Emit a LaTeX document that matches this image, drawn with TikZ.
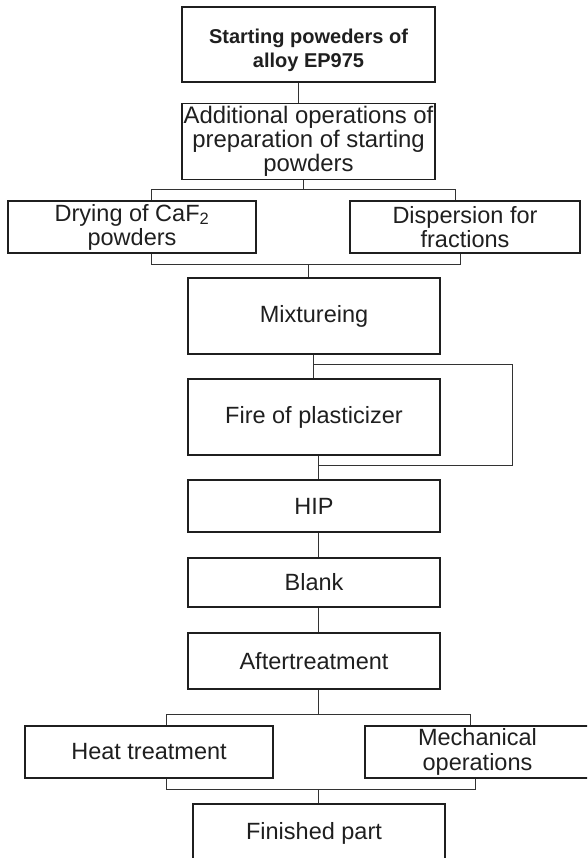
\documentclass[tikz,border=0pt]{standalone}
\usepackage{fontspec}
\setmainfont{Liberation Sans}
\begin{document}
\begin{tikzpicture}[x=1pt,y=-1pt,
  box/.style={draw=black!88, line width=1.7pt, inner sep=0pt, align=center,
    font=\fontsize{23.5}{24}\selectfont, text=black!88},
  plain/.style={inner sep=0pt, align=center, text=black!88},
  conn/.style={draw=black!80, line width=1pt}]
\useasboundingbox (0,0) rectangle (587,858);
\clip (0,0) rectangle (587,858);
% boxes
\node[box, minimum width=253, minimum height=75] (start) at (308.5,44.5) {};
\node[plain, font=\fontsize{20}{24}\bfseries\selectfont] (starttext) at (308.5,50)
  {Starting poweders of\\alloy EP975};
\node[box, minimum width=253, minimum height=76, font=\fontsize{23.9}{24}\selectfont] (addop) at (308.5,141.5)
  {Additional operations of\\preparation of starting\\powders};
\node[box, minimum width=248, minimum height=52] (dry) at (132,227)
  {Drying of CaF\textsubscript{2}\\powders};
\node[box, minimum width=230, minimum height=52] (disp) at (465,227)
  {Dispersion for\\fractions};
\node[box, minimum width=252, minimum height=76] (mix) at (314,316) {Mixtureing};
\node[box, minimum width=252, minimum height=76] (fire) at (314,417) {Fire of plasticizer};
\node[box, minimum width=252, minimum height=52] (hip) at (314,506) {HIP};
\node[box, minimum width=252, minimum height=49] (blank) at (314,582.5) {Blank};
\node[box, minimum width=252, minimum height=56] (after) at (314,661) {Aftertreatment};
\node[box, minimum width=248, minimum height=52] (heat) at (149,752) {Heat treatment};
\node[box, minimum width=225, minimum height=52, font=\fontsize{23.5}{25}\selectfont] (mech) at (477.5,752)
  {Mechanical\\operations};
\node[box, minimum width=252, minimum height=76] (fin) at (319,842) {};
\node[plain, font=\fontsize{23.5}{24}\selectfont] (fintext) at (314,833) {Finished part};
% coordinates for connector columns
\coordinate (c1) at (298,0);
\coordinate (c2) at (303,190);
\coordinate (bl) at (151,190);
\coordinate (br) at (455,190);
\coordinate (dl) at (151,265);
\coordinate (dr) at (460,265);
\coordinate (c3) at (308,265);
\coordinate (m1) at (313,364);
\coordinate (lr1) at (512,364);
\coordinate (lr2) at (512,465);
\coordinate (f1) at (318,465);
\coordinate (c4) at (318,714);
\coordinate (hl) at (166,714);
\coordinate (hr) at (470,714);
\coordinate (el) at (166,789);
\coordinate (er) at (475,789);
\coordinate (c5) at (318,789);
% connectors
\draw[conn] (start.south -| c1) -- (addop.north -| c1);
\draw[conn] (addop.south -| c2) -- (c2);
\draw[conn] (dry.north -| bl) -- (bl) -- (br) -- (disp.north -| br);
\draw[conn] (dry.south -| dl) -- (dl) -- (dr) -- (disp.south -| dr);
\draw[conn] (c3) -- (mix.north -| c3);
\draw[conn] (mix.south -| m1) -- (fire.north -| m1);
\draw[conn] (m1) -- (lr1) -- (lr2) -- (f1);
\draw[conn] (fire.south -| f1) -- (hip.north -| f1);
\draw[conn] (hip.south -| f1) -- (blank.north -| f1);
\draw[conn] (blank.south -| f1) -- (after.north -| f1);
\draw[conn] (after.south -| c4) -- (c4);
\draw[conn] (heat.north -| hl) -- (hl) -- (hr) -- (mech.north -| hr);
\draw[conn] (heat.south -| el) -- (el) -- (er) -- (mech.south -| er);
\draw[conn] (c5) -- (fin.north -| c5);
\end{tikzpicture}
\end{document}
